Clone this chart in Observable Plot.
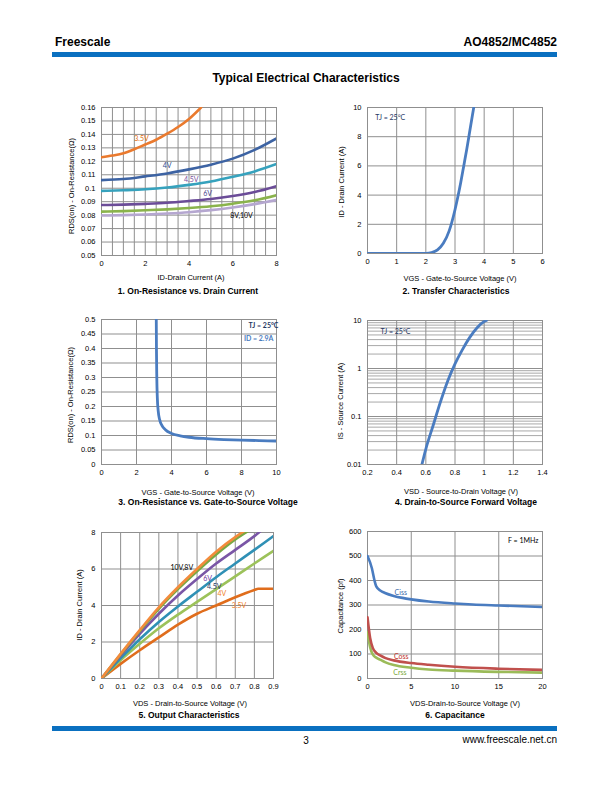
<!DOCTYPE html>
<html><head><meta charset="utf-8">
<script src="https://cdn.jsdelivr.net/npm/d3@7"></script>
<script src="https://cdn.jsdelivr.net/npm/@observablehq/plot@0.6"></script>
<style>
body{margin:0;background:#fff;}
#page{position:relative;width:612px;height:792px;overflow:hidden;font-family:"Liberation Sans",Arial,sans-serif;color:#000;background:#fff;}
.abs{position:absolute;white-space:nowrap;line-height:1;}
.bar{position:absolute;background:#0a70c0;}
svg{position:absolute;}
</style></head><body><div id="page"></div>
<script>
// ---------- Chart 1: On-Resistance vs Drain Current ----------
const c1XTicks = [0, 2, 4, 6, 8];
const c1XGrid = [0,0.5,1,1.5,2,2.5,3,3.5,4,4.5,5,5.5,6,6.5,7,7.5,8];
const c1YTicks = [0.05,0.06,0.07,0.08,0.09,0.1,0.11,0.12,0.13,0.14,0.15,0.16];
const c1Names = ["3.5V","4V","4.5V","6V","8V","10V"];
const c1_v35 = [[0,0.123],[0.5,0.1243],[1,0.126],[1.5,0.129],[2,0.1325],[2.5,0.136],[3,0.1405],[3.5,0.1455],[4,0.1515],[4.55,0.16]];
const c1_v4  = [[0,0.106],[1,0.1068],[2,0.1088],[3,0.111],[4,0.114],[5,0.1175],[6,0.122],[7,0.1285],[8,0.137]];
const c1_v45 = [[0,0.098],[1,0.0985],[2,0.0992],[3,0.1005],[4,0.1025],[5,0.105],[6,0.1085],[7,0.1125],[8,0.118]];
const c1_v6  = [[0,0.0875],[1,0.0878],[2,0.0884],[3,0.0892],[4,0.0905],[5,0.092],[6,0.0942],[7,0.0972],[8,0.1015]];
const c1_v8  = [[0,0.0826],[1,0.083],[2,0.0836],[3,0.0843],[4,0.0853],[5,0.0866],[6,0.0885],[7,0.091],[8,0.0948]];
const c1_v10 = [[0,0.0797],[1,0.08],[2,0.0805],[3,0.0812],[4,0.0822],[5,0.0837],[6,0.0857],[7,0.0882],[8,0.0912]];
const c1Labels = [["3.5V",1.83,0.137],["4V",3.0,0.1164],["4.5V",4.1,0.106],["6V",4.85,0.0956],["8V,10V",6.4,0.0795]];

// ---------- Chart 2: Transfer ----------
const c2XTicks = [0,1,2,3,4,5,6];
const c2YTicks = [0,2,4,6,8,10];
const c2 = [[0,0],[1,0],[2,0],[2.2,0.06],[2.4,0.25],[2.6,0.7],[2.8,1.55],[3.0,3.0],[3.1,3.9],[3.2,4.9],[3.3,6.0],[3.4,7.1],[3.5,8.3],[3.6,9.5],[3.65,10.1]];
const c2Label = [["TJ = 25°C",0.78,9.3]];

// ---------- Chart 3: On-Resistance vs VGS ----------
const c3XTicks = [0,2,4,6,8,10];
const c3YTicks = [0,0.05,0.1,0.15,0.2,0.25,0.3,0.35,0.4,0.45,0.5];
const c3 = [[3.13,0.5],[3.14,0.4],[3.16,0.3],[3.19,0.23],[3.24,0.185],[3.32,0.155],[3.45,0.135],[3.65,0.12],[4,0.107],[4.5,0.099],[5,0.094],[6,0.089],[7,0.086],[8,0.084],[9,0.0825],[10,0.081]];
const c3Labels = [["TJ = 25°C",9.26,0.478],["ID = 2.9A",8.98,0.432]];

// ---------- Chart 4: Drain-to-Source Forward Voltage ----------
const c4XTicks = [0.2,0.4,0.6,0.8,1,1.2,1.4];
const c4YTicks = [0.01,0.1,1,10];
const c4 = [[0.573,0.01],[0.6,0.021],[0.65,0.065],[0.7,0.2],[0.75,0.55],[0.8,1.25],[0.85,2.45],[0.9,4.4],[0.95,7.0],[1.0,9.5],[1.015,10]];
const c4Label = [["TJ = 25°C",0.392,5.7]];

// ---------- Chart 5: Output Characteristics ----------
const c5XTicks = [0,0.1,0.2,0.3,0.4,0.5,0.6,0.7,0.8,0.9];
const c5YTicks = [0,2,4,6,8];
const c5Names = ["10V","8V","6V","4.5V","4V","3.5V"];
const c5_v10 = [[0,0],[0.1,1.35],[0.2,2.65],[0.3,3.9],[0.4,5.0],[0.5,6.0],[0.6,6.95],[0.7,7.75],[0.75,8.1]];
const c5_v8  = [[0,0],[0.1,1.32],[0.2,2.6],[0.3,3.82],[0.4,4.9],[0.5,5.88],[0.6,6.8],[0.7,7.62],[0.77,8.1]];
const c5_v6  = [[0,0],[0.1,1.25],[0.2,2.45],[0.3,3.55],[0.4,4.55],[0.5,5.45],[0.6,6.3],[0.7,7.05],[0.8,7.8],[0.83,8.05]];
const c5_v45 = [[0,0],[0.1,1.1],[0.2,2.15],[0.3,3.1],[0.4,3.95],[0.5,4.75],[0.6,5.55],[0.7,6.3],[0.8,7.05],[0.9,7.8]];
const c5_v4  = [[0,0],[0.1,1.0],[0.2,1.9],[0.3,2.75],[0.4,3.5],[0.5,4.2],[0.6,4.9],[0.7,5.6],[0.8,6.3],[0.9,7.0]];
const c5_v35 = [[0,0],[0.1,0.8],[0.2,1.55],[0.3,2.25],[0.4,2.95],[0.5,3.55],[0.6,4.0],[0.7,4.45],[0.8,4.85],[0.82,4.92],[0.9,4.92]];
const c5Labels = [["10V,8V",0.42,6.05],["6V",0.555,5.47],["4.5V",0.59,5.03],["4V",0.63,4.62],["3.5V",0.72,3.98]];

// ---------- Chart 6: Capacitance ----------
const c6XTicks = [0,5,10,15,20];
const c6YTicks = [0,100,200,300,400,500,600];
const c6Names = ["Ciss","Coss","Crss"];
const c6_ciss = [[0,500],[0.5,450],[0.8,400],[1.0,376],[1.5,358],[2,349],[3,337],[4,329],[5,323],[7,314],[10,306],[12,302],[15,298],[20,292]];
const c6_coss = [[0,250],[0.3,165],[0.6,125],[1,105],[1.5,93],[2,84],[3,74],[5,63],[7,56],[10,48],[15,40],[20,35]];
const c6_crss = [[0,190],[0.3,128],[0.6,98],[1,85],[1.5,76],[2,67],[3,55],[5,44],[7,37],[10,32],[15,27],[20,24]];
const c6Labels = [["Ciss",3.8,349],["Coss",3.85,90],["Crss",3.7,25],["F = 1MHz",17.8,563]];

// ---------- helpers ----------
const page = document.getElementById("page");
const FONT = '"Liberation Sans", Arial, sans-serif';
const NOTE = 'Lato, "Open Sans", sans-serif';
const GRID = "#8f8f8f";

function addText(str, x, y, o = {}) {
  const d = document.createElement("div");
  d.className = "abs"; d.textContent = str;
  d.style.left = x + "px"; d.style.top = y + "px";
  d.style.fontSize = (o.size || 7.5) + "px";
  d.style.fontWeight = o.weight || "normal";
  d.style.color = o.color || "#000";
  d.style.fontFamily = o.family || FONT;
  const tx = o.anchor === "end" ? "-100%" : o.anchor === "start" ? "0" : "-50%";
  d.style.transform = `translate(${tx},-50%)` + (o.rotate ? ` rotate(${o.rotate}deg)` : "");
  page.appendChild(d);
}
function addBar(l, t, w, h) {
  const d = document.createElement("div");
  d.className = "bar";
  d.style.left = l + "px"; d.style.top = t + "px"; d.style.width = w + "px"; d.style.height = h + "px";
  page.appendChild(d);
}
const toRows = (arr) => arr.map(([x, y]) => ({x, y}));
const fmt = (d) => String(+(+d).toFixed(3));

function chart(frame, x, y, marks) {
  const [l, t, r, b] = frame;
  const ml = 42, mt = 10, mr = 14, mb = 20;
  const svg = Plot.plot({
    width: r - l + ml + mr, height: b - t + mt + mb,
    marginLeft: ml, marginTop: mt, marginRight: mr, marginBottom: mb,
    x: {...x, label: null}, y: {...y, label: null},
    style: {fontFamily: FONT, fontSize: "7.5px", color: "#000", background: "none", overflow: "visible"},
    marks
  });
  svg.style.left = (l - ml) + "px";
  svg.style.top = (t - mt) + "px";
  page.appendChild(svg);
}
function axes(xt, yt, xg, yg) {
  return [
    Plot.gridX(xg || xt, {stroke: GRID, strokeOpacity: 1, strokeWidth: 1}),
    Plot.gridY(yg || yt, {stroke: GRID, strokeOpacity: 1, strokeWidth: 1}),
    Plot.frame({stroke: GRID, strokeWidth: 1}),
    Plot.axisX({ticks: xt, tickSize: 0, tickPadding: 5, tickFormat: fmt, label: null}),
    Plot.axisY({ticks: yt, tickSize: 0, tickPadding: 6, tickFormat: fmt, label: null})
  ];
}
const line = (arr, color, w = 2.6) => Plot.line(toRows(arr), {x: "x", y: "y", stroke: color, strokeWidth: w, curve: "monotone-x", clip: true});
const notes = (arr, colors, o = {}) => Plot.text(arr, {x: d => d[1], y: d => d[2], text: d => d[0], fill: (d, i) => colors[i], fontFamily: NOTE, fontSize: o.size || 7, fontWeight: o.weight || "normal", textAnchor: "middle"});

// ---------- header / footer ----------
addText("Freescale", 55, 42, {size: 12, weight: "bold", anchor: "start"});
addText("AO4852/MC4852", 557, 42, {size: 12, weight: "bold", anchor: "end"});
addBar(52, 52, 505, 5);
addText("Typical Electrical Characteristics", 306, 78, {size: 12, weight: "bold"});
addBar(52, 726, 505, 5);
addText("3", 306, 741, {size: 10});
addText("www.freescale.net.cn", 557, 740, {size: 10, anchor: "end"});

// ---------- Chart 1 ----------
const c1Colors = ["#ea7a2e", "#3d63a3", "#36a2bd", "#6b4c98", "#8ab34c", "#b5a7d0"];
chart([101, 107, 276, 255],
  {domain: [0, 8]}, {domain: [0.05, 0.16]},
  [...axes(c1XTicks, c1YTicks, c1XGrid),
   line(c1_v10, c1Colors[5]), line(c1_v8, c1Colors[4]), line(c1_v6, c1Colors[3]),
   line(c1_v45, c1Colors[2]), line(c1_v4, c1Colors[1]), line(c1_v35, c1Colors[0]),
   notes(c1Labels, ["#e36c0a", "#2f4f8f", "#7a4f9e", "#4a3f8f", "#000"])]);
addText("RDS(on) - On-Resistance(Ω)", 72, 186, {rotate: -90});
addText("ID-Drain Current (A)", 191, 278);
addText("1. On-Resistance vs. Drain Current", 188, 291, {size: 8.5, weight: "bold"});

// ---------- Chart 2 ----------
chart([367, 107, 542, 253],
  {domain: [0, 6]}, {domain: [0, 10]},
  [...axes(c2XTicks, c2YTicks), line(c2, "#4a7cc0", 2.8),
   notes(c2Label, ["#1f3864"])]);
addText("ID - Drain Current (A)", 342, 182, {rotate: -90});
addText("VGS - Gate-to-Source Voltage (V)", 460, 279);
addText("2. Transfer Characteristics", 456, 291, {size: 8.5, weight: "bold"});

// ---------- Chart 3 ----------
chart([101, 319, 276, 464],
  {domain: [0, 10]}, {domain: [0, 0.5]},
  [...axes(c3XTicks, c3YTicks), line(c3, "#4a7cc0", 2.8),
   notes(c3Labels, ["#1f3864", "#4a7cc0"], {weight: "bold"})]);
addText("RDS(on) - On-Resistance(Ω)", 71, 395, {rotate: -90});
addText("VGS - Gate-to-Source Voltage (V)", 198, 493);
addText("3. On-Resistance vs. Gate-to-Source Voltage", 208, 502, {size: 8.5, weight: "bold"});

// ---------- Chart 4 ----------
const c4Minor = [];
for (const dec of [0.01, 0.1, 1]) for (let k = 2; k <= 9; k++) c4Minor.push(+(dec * k).toFixed(3));
chart([367, 320, 542, 464],
  {domain: [0.2, 1.4]}, {type: "log", domain: [0.01, 10]},
  [Plot.gridY(c4Minor, {stroke: "#a8a8a8", strokeOpacity: 1, strokeWidth: 1}),
   ...axes(c4XTicks, c4YTicks),
   line(c4, "#4a7cc0", 2.8),
   notes(c4Label, ["#1f3864"])]);
addText("IS - Source Current (A)", 341, 401, {rotate: -90});
addText("VSD - Source-to-Drain Voltage (V)", 461, 492);
addText("4. Drain-to-Source Forward Voltage", 466, 502, {size: 8.5, weight: "bold"});

// ---------- Chart 5 ----------
const c5Colors = ["#f38b3c", "#79a843", "#7a56a6", "#2f90b5", "#9cc25a", "#e06d1c"];
chart([101, 532, 273, 678],
  {domain: [0, 0.9]}, {domain: [0, 8]},
  [...axes(c5XTicks, c5YTicks),
   line(c5_v35, c5Colors[5]), line(c5_v4, c5Colors[4]), line(c5_v45, c5Colors[3]),
   line(c5_v6, c5Colors[2]), line(c5_v8, c5Colors[1]), line(c5_v10, c5Colors[0]),
   notes(c5Labels, ["#000", "#7030a0", "#1f3864", "#f07f2a", "#f07f2a"])]);
addText("ID - Drain Current (A)", 80, 605, {rotate: -90});
addText("VDS - Drain-to-Source Voltage (V)", 190, 704);
addText("5. Output Characteristics", 189, 715, {size: 8.5, weight: "bold"});

// ---------- Chart 6 ----------
const c6Colors = ["#4a7cc0", "#c0504d", "#9bbb59"];
chart([367, 531, 542, 678],
  {domain: [0, 20]}, {domain: [0, 600]},
  [...axes(c6XTicks, c6YTicks),
   line(c6_crss, c6Colors[2]), line(c6_coss, c6Colors[1]), line(c6_ciss, c6Colors[0]),
   notes(c6Labels, ["#3d6aa8", "#c0302a", "#7aa83a", "#000"])]);
addText("Capacitance (pf)", 341, 606, {rotate: -90});
addText("VDS-Drain-to-Source Voltage (V)", 465, 704);
addText("6. Capacitance", 455, 715, {size: 8.5, weight: "bold"});
</script>
</body></html>
